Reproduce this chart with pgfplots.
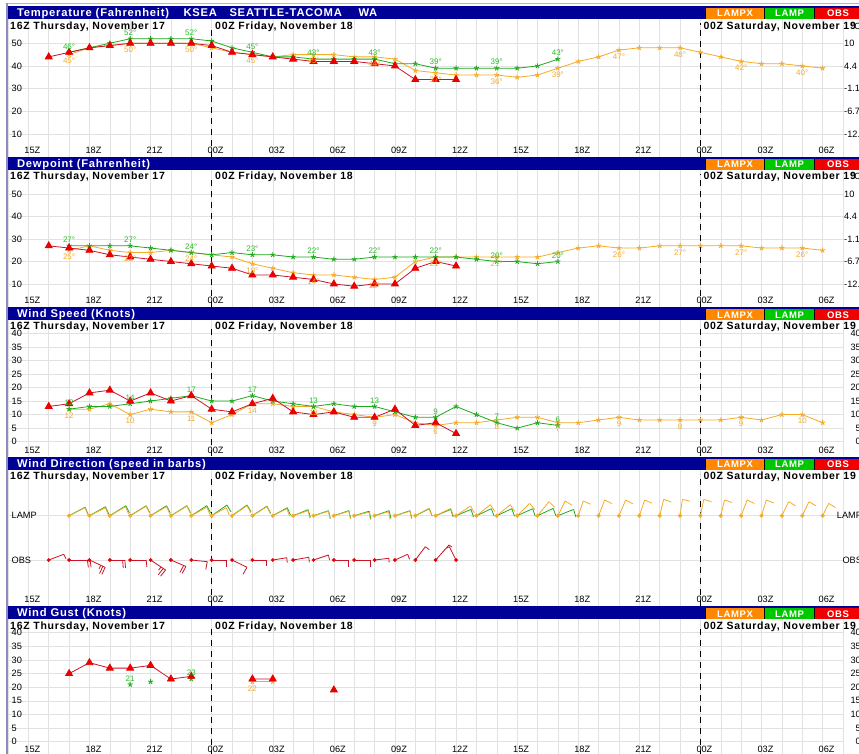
\documentclass[border=0pt]{standalone}
\usepackage{fontspec}
\setmainfont{Liberation Sans}
\newfontfamily\hdr[LetterSpace=7]{Liberation Sans}
\usepackage{pgfplots}
\usepackage{pgfplotstable}
\pgfplotsset{compat=1.18}

\definecolor{navy}{RGB}{0,0,150}
\definecolor{boxo}{RGB}{255,136,0}
\definecolor{boxg}{RGB}{0,200,0}
\definecolor{boxr}{RGB}{240,0,0}
\definecolor{lampx}{RGB}{245,170,40}
\definecolor{lamp}{RGB}{30,170,30}
\definecolor{obs}{RGB}{235,0,0}
\definecolor{obsl}{RGB}{200,20,40}
\definecolor{labg}{RGB}{40,190,40}
\definecolor{labo}{RGB}{245,170,40}
\definecolor{gridc}{RGB}{226,226,226}
\definecolor{bord}{RGB}{140,140,190}

\newcommand\ticfont{\fontsize{9.2}{9.2}\selectfont}
\newcommand\lblfont{\fontsize{8}{8}\selectfont}
\newcommand\ttlfont{\hdr\bfseries\fontsize{11.2}{11.2}\selectfont}
\newcommand\subfont{\hdr\bfseries\fontsize{10.5}{10.5}\selectfont}
\newcommand\boxfont{\hdr\bfseries\fontsize{9.5}{9.5}\selectfont}

% ---------------- data ----------------
\pgfplotstableread{
t v
16 44
17 46
18 48
19 49
20 50
21 50
22 50
23 50
24 49
25 46
26 45
27 44
28 43
29 42
30 42
31 42
32 41
33 40
34 34
35 34
36 34
}\tobs
\pgfplotstableread{
t v
17 46
18 48
19 50
20 52
21 52
22 52
23 52
24 51
25 48
26 46
27 44
28 44
29 43
30 43
31 43
32 43
33 41
34 41
35 39
36 39
37 39
38 39
39 39
40 40
41 43
}\tlamp
\pgfplotstableread{
t v
17 45
18 48
19 49
20 50
21 50
22 50
23 50
24 48
25 46
26 45
27 44
28 45
29 45
30 45
31 44
32 44
33 43
34 38
35 37
36 36
37 36
38 36
39 35
40 36
41 39
42 42
43 44
44 47
45 48
46 48
47 48
48 46
49 44
50 42
51 41
52 41
53 40
54 39
}\tlampx
\pgfplotstableread{
t v lab
17 46 46°
20 52 52°
23 52 52°
26 46 45°
29 43 43°
32 43 43°
35 39 39°
38 39 39°
41 43 43°
}\tlampl
\pgfplotstableread{
t v lab
17 45 45°
20 50 50°
23 50 50°
26 45 45°
29 45 45°
32 44 44°
35 37 37°
38 36 36°
41 39 39°
44 47 47°
47 48 48°
50 42 42°
53 40 40°
}\tlampxl

\pgfplotstableread{
t v
16 27
17 26
18 25
19 23
20 22
21 21
22 20
23 19
24 18
25 17
26 14
27 14
28 13
29 12
30 10
31 9
32 10
33 10
34 17
35 20
36 18
}\dobs
\pgfplotstableread{
t v
17 27
18 27
19 27
20 27
21 26
22 25
23 24
24 23
25 24
26 23
27 23
28 22
29 22
30 21
31 21
32 22
33 22
34 22
35 22
36 22
37 21
38 20
39 20
40 19
41 20
}\dlamp
\pgfplotstableread{
t v
17 25
18 27
19 25
20 24
21 24
22 25
23 24
24 23
25 22
26 19
27 17
28 15
29 14
30 14
31 13
32 12
33 13
34 20
35 22
36 22
37 22
38 22
39 22
40 22
41 24
42 26
43 27
44 26
45 26
46 27
47 27
48 27
49 27
50 27
51 26
52 26
53 26
54 25
}\dlampx
\pgfplotstableread{
t v lab
17 27 27°
20 27 27°
23 24 24°
26 23 23°
29 22 22°
32 22 22°
35 22 22°
38 20 20°
41 20 20°
}\dlampl
\pgfplotstableread{
t v lab
17 25 25°
20 24 22°
23 24 24°
26 19 19°
29 14 14°
32 12 12°
35 22 21°
38 22 21°
44 26 26°
47 27 27°
50 27 27°
53 26 26°
}\dlampxl

\pgfplotstableread{
t v
16 13
17 14
18 18
19 19
20 15
21 18
22 15
23 17
24 12
25 11
26 14
27 16
28 11
29 10
30 11
31 9
32 9
33 12
34 6
35 7
36 3
}\sobs
\pgfplotstableread{
t v
17 12
18 13
19 13
20 14
21 15
22 16
23 17
24 15
25 15
26 17
27 15
28 14
29 13
30 14
31 13
32 13
33 11
34 9
35 9
36 13
37 10
38 7
39 5
40 7
41 6
}\slamp
\pgfplotstableread{
t v
17 12
18 12
19 14
20 10
21 12
22 11
23 11
24 7
25 10
26 14
27 14
28 13
29 13
30 11
31 10
32 9
33 10
34 7
35 6
36 7
37 7
38 8
39 9
40 9
41 7
42 7
43 8
44 9
45 8
46 8
47 8
48 8
49 8
50 9
51 8
52 10
53 10
54 7
}\slampx
\pgfplotstableread{
t v lab
17 12 12
20 14 14
23 17 17
26 17 17
29 13 13
32 13 13
35 9 9
38 7 7
41 6 6
}\slampl
\pgfplotstableread{
t v lab
17 12 12
20 10 10
23 11 11
26 14 14
29 13 13
32 9 9
35 6 6
38 8 8
41 7 7
44 9 9
47 8 8
50 9 9
53 10 10
}\slampxl

% wind barbs: staff (sx,sy) and barb (bx,by) in pixels
\pgfplotstableread{
t sx sy bx by
17 16 8 2.94 -7.44
18 16 8 2.94 -7.44
19 15.5 9 3.38 -7.25
20 16 9.5 3.47 -7.21
21 16 9 3.30 -7.29
22 16 9.5 3.47 -7.21
23 15.5 8.5 3.16 -7.35
24 14.5 8 3.19 -7.34
25 15 10 3.84 -7.02
26 14.5 9 3.62 -7.14
27 14 7 2.94 -7.44
28 15 5 1.85 -7.78
29 15 4.5 1.62 -7.83
30 15 4.5 1.62 -7.83
31 15 3.5 1.13 -7.92
32 14 4 1.51 -7.86
33 15 4.5 1.62 -7.83
34 13.5 7.3 3.12 -7.37
35 15 7.3 2.87 -7.47
36 14.5 9.7 3.85 -7.01
37 14 11 4.38 -6.69
38 13.5 11 4.50 -6.62
39 12.5 12.3 5.09 -6.17
40 11.5 14 5.71 -5.60
41 7.3 14.7 6.83 -4.17
42 5 14.7 7.32 -3.23
43 6 15.7 7.19 -3.49
44 6.7 15.7 7.06 -3.77
45 5.3 15.7 7.32 -3.22
46 4 16.3 7.57 -2.58
47 2.3 16.3 7.79 -1.80
48 3.3 16.3 7.67 -2.26
49 3.7 15.7 7.60 -2.51
50 6 15.7 7.19 -3.49
51 4.7 15.7 7.43 -2.96
52 6.7 14 6.88 -4.07
53 6.7 14 6.88 -4.07
54 6 12.3 6.86 -4.11
}\bx
\pgfplotstableread{
t sx sy bx by
17 16 8.5 3.13 -7.36
18 16 9 3.30 -7.29
19 16 10 3.63 -7.13
20 16 10 3.63 -7.13
21 16 10 3.63 -7.13
22 16 10 3.63 -7.13
23 15.5 10 3.73 -7.08
24 15.3 10.7 4.00 -6.93
25 15 10.7 4.06 -6.89
26 14.5 9.5 3.78 -7.05
27 14.5 8 3.19 -7.34
28 15 6 2.31 -7.66
29 15 5 1.85 -7.78
30 15 5 1.85 -7.78
31 15 4.5 1.62 -7.83
32 14.5 5 1.94 -7.76
33 15 5 1.85 -7.78
34 14 7 2.94 -7.44
35 15 6.3 2.45 -7.62
36 15 6.3 2.45 -7.62
37 15 7 2.74 -7.52
38 15 7 2.74 -7.52
39 15.5 7 2.65 -7.55
40 15.7 7.3 2.73 -7.52
41 15.7 6.3 2.33 -7.65
}\bl
\pgfplotstableread{
t sx sy bx by
16 15 5.7 2.3 -4.5
17 21 0 1 -7.3
18 15.7 -7.3 -3.4 -7.2
19 15 0 0.7 -8
20 16 0 0.7 -7
21 15 -10 -5 -6.2
22 15 -6.5 -3.8 -7
23 16 -1.7 -1.5 -7.8
24 15 0 0 -7.3
25 15 -7.3 -4 -6.9
26 14.3 0 0 -6
27 14 2.3 0.5 -5
28 15.7 2.7 0.5 -5
29 15 5 1 -5
30 15 0 0 -7.3
31 15.7 0 0 -7.3
32 14.3 1.7 0.3 -4
33 12.7 5.7 2 -5
34 10 13.3 4 -3
35 13.3 15 3 -2
36 -6.7 13.3 -3 -1.5
}\bo
\pgfplotstableread{
t sx sy f bx by
17 21 0 0.87 1 -7.3
18 15.7 -7.3 0.86 -3.4 -7.2
18 15.7 -7.3 0.72 -1.7 -3.6
19 15 0 0.85 0.7 -8
21 15 -10 0.85 -5 -6.2
21 15 -10 0.70 -2.5 -3.1
22 15 -6.5 0.85 -3.8 -7
}\bob

\pgfplotstableread{
t v
17 25
18 29
19 27
20 27
21 28
22 23
23 24
24 nan
26 23
27 23
28 nan
30 19
}\gobs
\pgfplotstableread{
t v
20 21
21 22
22 23
23 23
}\glamp
\pgfplotstableread{
t v
26 22
27 22
}\glampx

\pgfplotsset{
  panel/.style={
    scale only axis, width=835pt, xmin=14, xmax=55, anchor=north west,
    axis line style={draw=none}, major tick length=0pt, minor tick length=0pt,
    xtick={15,18,...,54},
    xticklabels={15Z,18Z,21Z,00Z,03Z,06Z,09Z,12Z,15Z,18Z,21Z,00Z,03Z,06Z},
    minor xtick={14,...,55},
    xmajorgrids, xminorgrids, ymajorgrids,
    grid style={gridc, line width=0.5pt},
    minor grid style={gridc, line width=0.5pt},
    xticklabel style={font=\ticfont, anchor=center, inner sep=0pt, yshift=6.3pt, xshift=4pt},
    yticklabel style={font=\ticfont, anchor=west, inner sep=0pt, xshift=3.5pt},
    clip=false, unbounded coords=jump,
  },
  xl/.style={color=lampx, line width=0.8pt, mark=star, mark size=2.6pt, mark options={solid, line width=0.9pt}},
  ll/.style={color=lamp, line width=0.8pt, mark=star, mark size=2.6pt, mark options={solid, line width=0.9pt}},
  ol/.style={color=obsl, line width=0.8pt, mark=triangle*, mark size=4pt, mark options={solid, fill=obs, draw=obs}},
  glab/.style={only marks, mark=none, nodes near coords, point meta=explicit symbolic,
     nodes near coords style={font=\lblfont, text=labg, anchor=center, inner sep=0pt, yshift=6pt}},
  olab/.style={only marks, mark=none, nodes near coords, point meta=explicit symbolic,
     nodes near coords style={font=\lblfont, text=labo, anchor=center, inner sep=0pt, yshift=-6.5pt}},
  dashl/.style={black, line width=0.8pt, dash pattern=on 6pt off 5pt},
}

\newcommand\header[2]{%
\begin{scope}[yshift=-#1pt]
\fill[navy] (8pt,0pt) rectangle (875pt,-13pt);
\fill[boxo] (705pt,-2.3pt) rectangle (764.3pt,-13pt);
\fill[boxg] (764.3pt,-2.3pt) rectangle (814.3pt,-13pt);
\fill[boxr] (814.3pt,-2.3pt) rectangle (875pt,-13pt);
\draw[black,line width=0.7pt] (705pt,-2.3pt)--(705pt,-13pt) (764.3pt,-2.3pt)--(764.3pt,-13pt) (814.3pt,-2.3pt)--(814.3pt,-13pt);
\node[anchor=base, text=white, font=\boxfont, inner sep=0pt] at (735pt,-11pt) {LAMPX};
\node[anchor=base, text=white, font=\boxfont, inner sep=0pt] at (789.5pt,-11pt) {LAMP};
\node[anchor=base, text=white, font=\boxfont, inner sep=0pt] at (838pt,-11pt) {OBS};
\node[anchor=base west, text=white, font=\ttlfont, inner sep=0pt] at (16.8pt,-10.8pt) {#2};
\end{scope}}

\newcommand\subhdr[1]{%
\node[anchor=base west, font=\subfont, inner sep=0pt] at (10pt,-#1pt) {16Z Thursday, November 17};
\node[anchor=base west, font=\subfont, inner sep=0pt] at (215pt,-#1pt) {00Z Friday, November 18};
\node[anchor=base west, font=\subfont, inner sep=0pt] at (703.3pt,-#1pt) {00Z Saturday, November 19};
}

\begin{document}
\begin{tikzpicture}
\useasboundingbox (0pt,0pt) rectangle (859pt,-754pt);
\clip (0pt,0pt) rectangle (859pt,-754pt);
\fill[white] (0pt,0pt) rectangle (859pt,-754pt);
\draw[gridc!80!black, line width=0.6pt] (8pt,-3.5pt) -- (859pt,-3.5pt);

% ---------- Panel 1: temperature ----------
\begin{axis}[panel, at={(8pt,-19pt)}, height=138pt, ymin=-0.13, ymax=60.7,
  ytick={10,20,30,40,50}, yticklabels={10,20,30,40,50}]
\addplot[dashl] coordinates {(24,-0.13) (24,57)};
\addplot[dashl] coordinates {(48,-0.13) (48,59)};
\addplot[xl] table[x=t,y=v] {\tlampx};
\addplot[ll] table[x=t,y=v] {\tlamp};
\addplot[ol] table[x=t,y=v] {\tobs};
\addplot[olab] table[x=t,y=v,meta=lab] {\tlampxl};
\addplot[glab] table[x=t,y=v,meta=lab] {\tlampl};
\end{axis}

% ---------- Panel 2: dewpoint ----------
\begin{axis}[panel, at={(8pt,-170pt)}, height=137pt, ymin=-0.27, ymax=60.8,
  ytick={10,20,30,40,50}, yticklabels={10,20,30,40,50}]
\addplot[dashl] coordinates {(24,-0.27) (24,57)};
\addplot[dashl] coordinates {(48,-0.27) (48,59)};
\addplot[xl] table[x=t,y=v] {\dlampx};
\addplot[ll] table[x=t,y=v] {\dlamp};
\addplot[ol] table[x=t,y=v] {\dobs};
\addplot[olab] table[x=t,y=v,meta=lab] {\dlampxl};
\addplot[glab] table[x=t,y=v,meta=lab] {\dlampl};
\end{axis}

% ---------- Panel 3: wind speed ----------
\begin{axis}[panel, at={(8pt,-320pt)}, height=136.5pt, ymin=-5.46, ymax=44.9,
  ytick={0,5,...,40}, yticklabels={0,5,10,15,20,25,30,35,40}]
\addplot[dashl] coordinates {(24,-5.46) (24,42)};
\addplot[dashl] coordinates {(48,-5.46) (48,42)};
\addplot[xl] table[x=t,y=v] {\slampx};
\addplot[ll] table[x=t,y=v] {\slamp};
\addplot[ol] table[x=t,y=v] {\sobs};
\addplot[olab] table[x=t,y=v,meta=lab] {\slampxl};
\addplot[glab] table[x=t,y=v,meta=lab] {\slampl};
\end{axis}

% ---------- Panel 4: wind direction ----------
\begin{axis}[panel, at={(8pt,-469.5pt)}, height=136.5pt, ymin=0, ymax=136.5,
  ytick={46,90.3}, yticklabels={OBS,LAMP}]
\addplot[dashl] coordinates {(24,0) (24,130)};
\addplot[dashl] coordinates {(48,0) (48,132)};
\addplot[lamp, line width=0.8pt, quiver={u=\thisrow{sx}/20.37, v=\thisrow{sy}}] table[x=t, y expr=90.3] {\bl};
\addplot[lamp, line width=0.8pt, quiver={u=\thisrow{bx}/20.37, v=\thisrow{by}}] table[x expr=\thisrow{t}+\thisrow{sx}/20.37, y expr=90.3+\thisrow{sy}] {\bl};
\addplot[lampx, line width=0.8pt, quiver={u=\thisrow{sx}/20.37, v=\thisrow{sy}}] table[x=t, y expr=90.3] {\bx};
\addplot[lampx, line width=0.8pt, quiver={u=\thisrow{bx}/20.37, v=\thisrow{by}}] table[x expr=\thisrow{t}+\thisrow{sx}/20.37, y expr=90.3+\thisrow{sy}] {\bx};
\addplot[lampx, only marks, mark=*, mark size=1.9pt] table[x=t, y expr=90.3] {\bx};
\addplot[obsl, line width=0.8pt, quiver={u=\thisrow{sx}/20.37, v=\thisrow{sy}}] table[x=t, y expr=46] {\bo};
\addplot[obsl, line width=0.8pt, quiver={u=\thisrow{bx}/20.37, v=\thisrow{by}}] table[x expr=\thisrow{t}+\thisrow{sx}/20.37, y expr=46+\thisrow{sy}] {\bo};
\addplot[obsl, line width=0.8pt, quiver={u=\thisrow{bx}/20.37, v=\thisrow{by}}] table[x expr=\thisrow{t}+\thisrow{f}*\thisrow{sx}/20.37, y expr=46+\thisrow{f}*\thisrow{sy}] {\bob};
\addplot[obs, only marks, mark=*, mark size=1.7pt] table[x=t, y expr=46] {\bo};
\end{axis}

% ---------- Panel 5: wind gust ----------
\begin{axis}[panel, at={(8pt,-619pt)}, height=136.5pt, ymin=-5.06, ymax=45.03,
  ytick={0,5,...,40}, yticklabels={0,5,10,15,20,25,30,35,40}]
\addplot[dashl] coordinates {(24,-5.06) (24,42)};
\addplot[dashl] coordinates {(48,-5.06) (48,42)};
\addplot[xl] table[x=t,y=v] {\glampx};
\addplot[ll, only marks] table[x=t,y=v] {\glamp};
\addplot[ol] table[x=t,y=v] {\gobs};
\addplot[olab] coordinates {(26,22) [22]};
\addplot[glab, point meta=explicit symbolic] coordinates {(20,21) [21] (23,23) [23]};
\end{axis}

% ---------- headers ----------
\header{6}{Temperature (Fahrenheit)}
\node[anchor=base west, text=white, font=\ttlfont, inner sep=0pt] at (183.3pt,-16.8pt) {KSEA};
\node[anchor=base west, text=white, font=\ttlfont, inner sep=0pt] at (229.3pt,-16.8pt) {SEATTLE-TACOMA};
\node[anchor=base west, text=white, font=\ttlfont, inner sep=0pt] at (358.3pt,-16.8pt) {WA};
\header{157}{Dewpoint (Fahrenheit)}
\header{307}{Wind Speed (Knots)}
\header{456.5}{Wind Direction (speed in barbs)}
\header{606}{Wind Gust (Knots)}

\subhdr{30}
\subhdr{180}
\subhdr{329.5}
\subhdr{479.5}
\subhdr{629}
\node[anchor=base west, font=\fontsize{9}{9}\selectfont, inner sep=0pt] at (850.5pt,-30pt) {°C};
\node[anchor=base west, font=\fontsize{9}{9}\selectfont, inner sep=0pt] at (850.5pt,-180pt) {°C};

% right-hand labels
\foreach \y/\l in {43.3/10, 66.0/4.4, 88.7/-1.1, 111.4/-6.7, 134.0/-12.2,
                   194.3/10, 216.7/4.4, 239.1/-1.1, 261.5/-6.7, 284.0/-12.2}
  \node[anchor=west, font=\ticfont, inner sep=0pt] at (844pt,-\y pt) {\l};
\foreach \y/\l in {333.3/40, 346.9/35, 360.4/30, 374.0/25, 387.5/20, 401.1/15, 414.6/10, 428.2/5, 441.7/0,
                   632.7/40, 646.3/35, 660.0/30, 673.6/25, 687.2/20, 700.8/15, 714.5/10, 728.1/5, 741.7/0}
  \node[anchor=east, font=\ticfont, inner sep=0pt] at (861pt,-\y pt) {\l};
\node[anchor=west, font=\ticfont, inner sep=0pt] at (836.7pt,-515.7pt) {LAMP};
\node[anchor=west, font=\ticfont, inner sep=0pt] at (842.3pt,-560pt) {OBS};

\draw[bord, line width=1.5pt] (7.2pt,-3pt) -- (7.2pt,-754pt);
\end{tikzpicture}
\end{document}
